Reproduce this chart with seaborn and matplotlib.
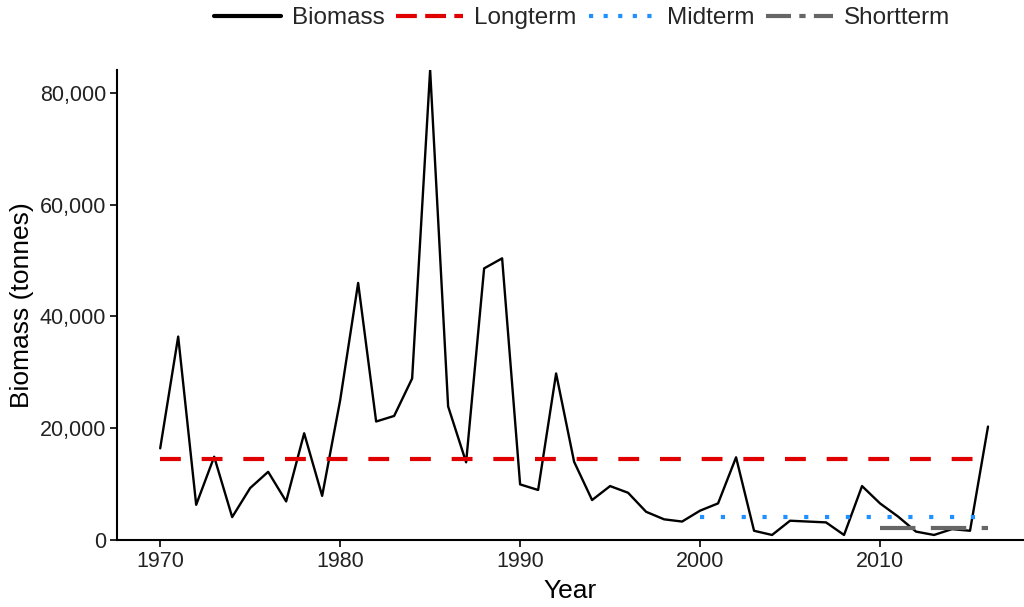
import numpy as np
import pandas as pd
import matplotlib
matplotlib.use("Agg")
import matplotlib.pyplot as plt
from matplotlib.ticker import FuncFormatter
from matplotlib.lines import Line2D
import seaborn as sns

# Annual biomass estimates (tonnes)
years = list(range(1970, 2017))
biomass = [16400, 36400, 6300, 14900, 4100, 9300, 12200, 6900, 19100, 7900,
           25000, 46000, 21200, 22200, 28900, 84100, 23900, 13900, 48600, 50400,
           9950, 8950, 29800, 14000, 7150, 9650, 8450, 5050, 3700, 3300,
           5250, 6550, 14800, 1650, 900, 3450, 3300, 3150, 900, 9650,
           6550, 4200, 1500, 900, 1950, 1650, 20300]

# Reference-period means
longterm_years = [1970, 2016]
longterm_value = 14500
midterm_years = [2000, 2016]
midterm_value = 4150
shortterm_years = [2010, 2016]
shortterm_value = 2200

series_labels = ["Biomass", "Longterm", "Midterm", "Shortterm"]
x_ticks = [1970, 1980, 1990, 2000, 2010]
y_ticks = [0, 20000, 40000, 60000, 80000]

sns.set_theme(style="ticks")
plt.rcParams["font.family"] = ["Liberation Sans", "DejaVu Sans"]

fig = plt.figure(figsize=(10.24, 6.07), dpi=100)
ax = fig.add_axes([117 / 1024, 1 - 540 / 607, 1 - 117 / 1024, (540 - 70) / 607])

df_bio = pd.DataFrame({"Year": years, "Biomass": biomass})
df_long = pd.DataFrame({"Year": longterm_years, "Biomass": [longterm_value] * 2})
df_mid = pd.DataFrame({"Year": midterm_years, "Biomass": [midterm_value] * 2})
df_short = pd.DataFrame({"Year": shortterm_years, "Biomass": [shortterm_value] * 2})

c_bio, c_long, c_mid, c_short = "black", "#E00000", "#1E90FF", "#666666"

sns.lineplot(data=df_bio, x="Year", y="Biomass", color=c_bio, lw=1.7, ax=ax)
sns.lineplot(data=df_long, x="Year", y="Biomass", color=c_long, lw=3.0, ax=ax)
ax.lines[-1].set_dashes((5.0, 5.0))
sns.lineplot(data=df_mid, x="Year", y="Biomass", color=c_mid, lw=3.0, ax=ax)
ax.lines[-1].set_dashes((1.0, 4.0))
sns.lineplot(data=df_short, x="Year", y="Biomass", color=c_short, lw=3.0, ax=ax)
ax.lines[-1].set_dashes((8.5, 3.7))

ax.set_xlim(1967.6, 2018.0)
ax.set_ylim(0, 84100)
ax.set_xticks(x_ticks)
ax.set_yticks(y_ticks)
ax.yaxis.set_major_formatter(FuncFormatter(lambda v, p: f"{int(v):,}"))
ax.tick_params(axis="both", labelsize=15.5, colors="black", length=5, width=1.2,
               direction="out", pad=3)
for t in ax.get_xticklabels() + ax.get_yticklabels():
    t.set_color("#222222")
ax.set_xlabel("Year", fontsize=19, color="black", labelpad=5)
ax.set_ylabel("Biomass (tonnes)", fontsize=19, color="black", labelpad=4)
for s in ["top", "right"]:
    ax.spines[s].set_visible(False)
for s in ["left", "bottom"]:
    ax.spines[s].set_color("black")
    ax.spines[s].set_linewidth(1.5)

handles = [
    Line2D([], [], color=c_bio, lw=3.0),
    Line2D([], [], color=c_long, lw=3.0, dashes=(5.0, 2.0)),
    Line2D([], [], color=c_mid, lw=3.0, dashes=(1.0, 2.5)),
    Line2D([], [], color=c_short, lw=3.0, dashes=(6.0, 2.0, 1.5, 2.0)),
]
fig.legend(handles, series_labels, loc="center", bbox_to_anchor=(582 / 1024, 1 - 18 / 607),
           ncol=4, frameon=False, fontsize=17.5, handlelength=2.75, handletextpad=0.45,
           columnspacing=0.5, borderaxespad=0)

fig.savefig("out.png", dpi=100)
